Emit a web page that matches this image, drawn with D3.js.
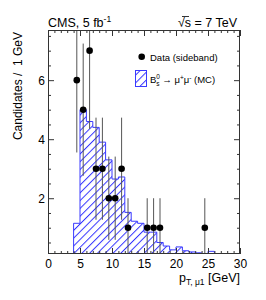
<!DOCTYPE html>
<html><head><meta charset="utf-8">
<script src="https://cdn.jsdelivr.net/npm/d3@7"></script>
<style>body{margin:0;background:#fff}svg{display:block}text{font-family:"Liberation Sans",Arial,sans-serif}</style>
</head><body><svg id="c" width="266" height="300"></svg>
<script>
// Data (sideband) points
const dataX = [4.5,5.5,6.5,7.5,8.5,9.5,10.5,11.5,12.5,15.5,16.5,17.5,24.5];
const dataY = [6,5,7,3,3,2,2,3,1,1,1,1,1];
const dataErr = [2.45,2.24,2.65,1.73,1.73,1.41,1.41,1.73,1,1,1,1,1];
// MC histogram (1 GeV bins, lower edges)
const mcBinLow = [4,5,6,7,8,9,10,11,12,13,14,15,16,17,18,19,20,21,22,23,24,25];
const mcY = [1.15,5.0,4.6,4.4,3.9,3.3,2.65,2.72,1.52,1.22,1.15,0.85,0.85,0.5,0.38,0.25,0.35,0.22,0.18,0.15,0.12,0.2];
const xMajor = [0,5,10,15,20,25,30];
const yMajor = [2,4,6];

const svg = d3.select("#c");
const L=48,R=240,T=30,B=254;
const x = d3.scaleLinear().domain([0,30]).range([L,R]);
const y = d3.scaleLinear().domain([0.11,7.7]).range([B,T]);

const defs = svg.append("defs");
defs.append("clipPath").attr("id","clip").append("rect").attr("x",L).attr("y",T).attr("width",R-L).attr("height",B-T);
const pat = defs.append("pattern").attr("id","hatch").attr("patternUnits","userSpaceOnUse")
  .attr("width",5.5).attr("height",5.5).attr("patternTransform","rotate(45)");
pat.append("line").attr("x1",0.5).attr("y1",0).attr("x2",0.5).attr("y2",5.5).attr("stroke","#3535ff").attr("stroke-width",1);

const g = svg.append("g").attr("clip-path","url(#clip)");
// histogram
const pts = [];
mcBinLow.forEach((b,i)=>{ pts.push([b, mcY[i]]); pts.push([b+1, mcY[i]]); });
let d = `M${x(mcBinLow[0])},${y(0)}`;
pts.forEach(p=>{ d += `L${x(p[0])},${y(p[1])}`; });
d += `L${x(mcBinLow[mcBinLow.length-1]+1)},${y(0)}Z`;
g.append("path").attr("d",d).attr("fill","url(#hatch)").attr("stroke","#3a3aff").attr("stroke-width",1);
g.append("line").attr("x1",x(0)).attr("x2",x(30)).attr("y1",B-0.5).attr("y2",B-0.5).attr("stroke","#3a3aff").attr("stroke-width",1);

// error bars
g.selectAll("line.err").data(dataX).enter().append("line").attr("class","err")
  .attr("x1",(v)=>x(v)).attr("x2",(v)=>x(v))
  .attr("y1",(v,i)=>y(dataY[i]-dataErr[i])).attr("y2",(v,i)=>y(dataY[i]+dataErr[i]))
  .attr("stroke","#555").attr("stroke-width",1);
g.selectAll("circle.pt").data(dataX).enter().append("circle").attr("class","pt")
  .attr("cx",(v)=>x(v)).attr("cy",(v,i)=>y(dataY[i])).attr("r",3.3).attr("fill","#000");

// axes
function styleAx(sel){ sel.select(".domain").remove(); sel.selectAll("line").attr("stroke","#333"); sel.selectAll("text").attr("font-size",12).attr("fill","#000").attr("font-family","Liberation Sans, Arial, sans-serif"); }
const xMinor = d3.range(0,31,1).filter(v=>v%5!==0);
const yMinor = d3.range(0.5,7.6,0.5).filter(v=>v%2!==0);
svg.append("g").attr("transform",`translate(0,${B})`).call(d3.axisBottom(x).tickValues(xMajor).tickSize(-6).tickPadding(5).tickFormat(d3.format("d"))).call(styleAx);
svg.append("g").attr("transform",`translate(0,${B})`).call(d3.axisBottom(x).tickValues(xMinor).tickSize(-3).tickFormat("")).call(styleAx);
svg.append("g").attr("transform",`translate(0,${T})`).call(d3.axisTop(x).tickValues(xMajor).tickSize(-6).tickFormat("")).call(styleAx);
svg.append("g").attr("transform",`translate(0,${T})`).call(d3.axisTop(x).tickValues(xMinor).tickSize(-3).tickFormat("")).call(styleAx);
svg.append("g").attr("transform",`translate(${L},0)`).call(d3.axisLeft(y).tickValues(yMajor).tickSize(-6).tickPadding(3).tickFormat(d3.format("d"))).call(styleAx);
svg.append("g").attr("transform",`translate(${L},0)`).call(d3.axisLeft(y).tickValues(yMinor).tickSize(-3).tickFormat("")).call(styleAx);
svg.append("g").attr("transform",`translate(${R},0)`).call(d3.axisRight(y).tickValues(yMajor).tickSize(-6).tickFormat("")).call(styleAx);
svg.append("g").attr("transform",`translate(${R},0)`).call(d3.axisRight(y).tickValues(yMinor).tickSize(-3).tickFormat("")).call(styleAx);
svg.append("rect").attr("x",L+0.5).attr("y",T+0.5).attr("width",R-L-1).attr("height",B-T-1).attr("fill","none").attr("stroke","#333");

// titles
const cms = svg.append("text").attr("x",L).attr("y",26.5).attr("font-size",12.5);
cms.append("tspan").text("CMS, 5 fb");
cms.append("tspan").attr("dy",-5).attr("font-size",8.5).text("-1");
const rs = svg.append("text").attr("x",237).attr("y",26.5).attr("font-size",12.5).attr("text-anchor","end");
rs.append("tspan").text("√");
rs.append("tspan").attr("class","s").text("s = 7 TeV");
svg.append("line").attr("x1",182).attr("x2",189).attr("y1",16.5).attr("y2",16.5).attr("stroke","#000").attr("stroke-width",0.8);

svg.append("text").attr("transform","translate(21.5,32) rotate(-90)").attr("text-anchor","end").attr("font-size",12).attr("xml:space","preserve").text("Candidates /  1 GeV");

const xt = svg.append("text").attr("x",R).attr("y",281.5).attr("font-size",12.5).attr("text-anchor","end");
xt.append("tspan").text("p");
xt.append("tspan").attr("dy",3.5).attr("font-size",8.5).text("T, μ1");
xt.append("tspan").attr("dy",-3.5).text(" [GeV]");

// legend
svg.append("circle").attr("cx",141.7).attr("cy",56.7).attr("r",3.3).attr("fill","#000");
svg.append("text").attr("x",150).attr("y",60.5).attr("font-size",9.5).text("Data (sideband)");
svg.append("rect").attr("x",135.5).attr("y",70.5).attr("width",11).attr("height",16).attr("fill","url(#hatch)").attr("stroke","#3a3aff");
const lt = svg.append("text").attr("x",150).attr("y",83).attr("font-size",9.5);
lt.append("tspan").text("B");
lt.append("tspan").attr("dy",-4).attr("font-size",6.5).text("0");
lt.append("tspan").attr("dx",-3.6).attr("dy",6.5).attr("font-size",6.5).text("s");
lt.append("tspan").attr("dy",-2.5).text(" → μ");
lt.append("tspan").attr("dy",-3.5).attr("font-size",6.5).text("+");
lt.append("tspan").attr("dy",3.5).text("μ");
lt.append("tspan").attr("dy",-3.5).attr("font-size",6.5).text("-");
lt.append("tspan").attr("dy",3.5).text(" (MC)");
</script></body></html>
